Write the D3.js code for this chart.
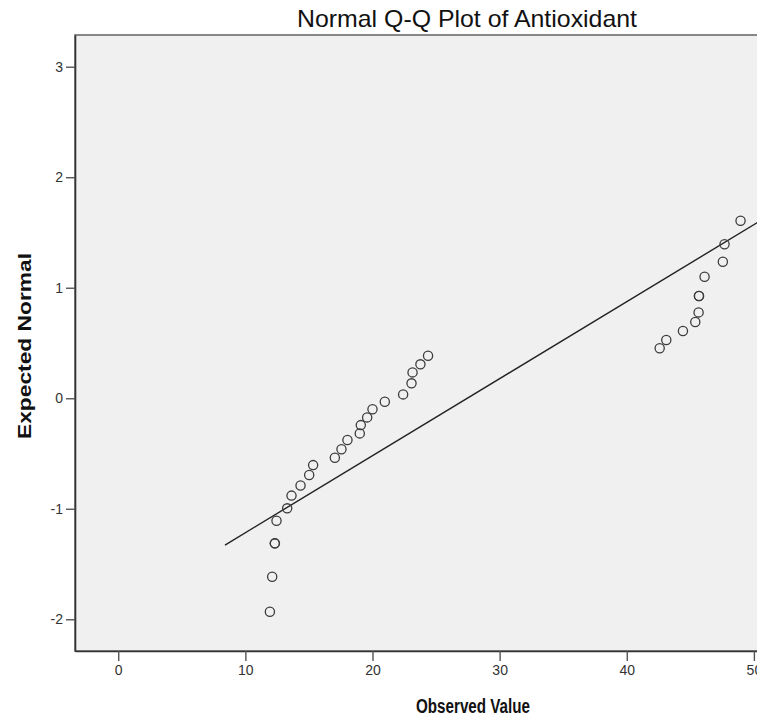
<!DOCTYPE html>
<html>
<head>
<meta charset="utf-8">
<script src="https://cdn.jsdelivr.net/npm/d3@7"></script>
<style>
  body { margin: 0; background: #fff; }
  svg { display: block; font-family: 'Liberation Sans', Arial, sans-serif; }
</style>
</head>
<body>
<div id="svg-container"></div>
<script>
const observed = [
  11.93, 12.11, 12.32, 12.32, 12.45, 13.29, 13.63, 14.34, 15.02, 15.33,
  17.04, 17.56, 18.03, 19.0, 19.08, 19.58, 20.0, 20.97, 22.41, 23.07,
  23.15, 23.77, 24.37,
  42.59, 43.11, 44.42, 45.39, 45.65, 45.68, 45.68, 46.12, 47.56, 47.69, 48.95,
];
const expected = [
  -1.932, -1.615, -1.313, -1.313, -1.109, -0.996, -0.881, -0.79, -0.695, -0.605,
  -0.538, -0.462, -0.378, -0.318, -0.243, -0.173, -0.1, -0.032, 0.035, 0.135,
  0.234, 0.307, 0.385,
  0.452, 0.527, 0.608, 0.69, 0.777, 0.925, 0.925, 1.1, 1.235, 1.393, 1.606,
];
const xTicks = [0, 10, 20, 30, 40, 50];
const yTicks = [-2, -1, 0, 1, 2, 3];
const lineMean = 27.46;
const lineSd = 14.35;
const lineRange = [8.4, 56];

const WIDTH = 757;
const HEIGHT = 721;
const LEFT = 75;
const TOP = 35;
const BOTTOM = 651;
const RIGHT = 820;

const svg = d3.create('svg').attr('width', WIDTH).attr('height', HEIGHT);

const xScale = d3.scaleLinear().domain([-3.4, 55.2]).range([LEFT, RIGHT]);
const yScale = d3.scaleLinear().domain([-2.287, 3.287]).range([BOTTOM, TOP]);

svg
  .append('rect')
  .attr('x', LEFT)
  .attr('y', TOP)
  .attr('width', RIGHT - LEFT)
  .attr('height', BOTTOM - TOP)
  .attr('fill', '#f0f0f0')
  .attr('stroke', '#6b6b6b')
  .attr('stroke-width', 1.6);

svg
  .append('defs')
  .append('clipPath')
  .attr('id', 'plot-clip')
  .append('rect')
  .attr('x', LEFT)
  .attr('y', TOP)
  .attr('width', RIGHT - LEFT)
  .attr('height', BOTTOM - TOP);

const points = observed.map((x, i) => [x, expected[i]]);
const refLine = lineRange.map((x) => [x, (x - lineMean) / lineSd]);

svg
  .append('path')
  .datum(refLine)
  .attr('clip-path', 'url(#plot-clip)')
  .attr('fill', 'none')
  .attr('stroke', '#222')
  .attr('stroke-width', 1.4)
  .attr('d', d3.line().x((d) => xScale(d[0])).y((d) => yScale(d[1])));

svg
  .append('g')
  .selectAll('circle')
  .data(points)
  .join('circle')
  .attr('cx', (d) => xScale(d[0]))
  .attr('cy', (d) => yScale(d[1]))
  .attr('r', 4.6)
  .attr('fill', 'none')
  .attr('stroke', '#3c3c3c')
  .attr('stroke-width', 1.3);

// plain hyphen minus, no decimals, like the SPSS output
const tickFormat = (d) => String(d);

const axisBottom = d3
  .axisBottom(xScale)
  .tickValues(xTicks)
  .tickFormat(tickFormat)
  .tickSize(10)
  .tickSizeOuter(0)
  .tickPadding(4);
const axisLeft = d3
  .axisLeft(yScale)
  .tickValues(yTicks)
  .tickFormat(tickFormat)
  .tickSize(9)
  .tickSizeOuter(0)
  .tickPadding(3);

const xAxis = svg
  .append('g')
  .attr('id', 'x-axis')
  .attr('transform', `translate(0, ${BOTTOM})`)
  .call(axisBottom);
const yAxis = svg
  .append('g')
  .attr('id', 'y-axis')
  .attr('transform', `translate(${LEFT}, 0)`)
  .call(axisLeft);

[xAxis, yAxis].forEach((axis) => {
  axis.select('.domain').attr('stroke', '#333').attr('stroke-width', 1.6);
  axis.selectAll('.tick line').attr('stroke', '#555').attr('stroke-width', 1.4);
  axis.selectAll('.tick text').attr('fill', '#333').style('font-size', '14px');
});

svg
  .append('text')
  .attr('x', 467)
  .attr('y', 27)
  .attr('text-anchor', 'middle')
  .attr('textLength', 340)
  .attr('lengthAdjust', 'spacingAndGlyphs')
  .style('font-size', '24px')
  .attr('fill', '#111')
  .text('Normal Q-Q Plot of Antioxidant');

svg
  .append('text')
  .attr('x', 473)
  .attr('y', 713)
  .attr('text-anchor', 'middle')
  .attr('textLength', 114)
  .attr('lengthAdjust', 'spacingAndGlyphs')
  .style('font-size', '20px')
  .style('font-weight', 'bold')
  .attr('fill', '#111')
  .text('Observed Value');

svg
  .append('text')
  .attr('transform', 'translate(31, 346) rotate(-90)')
  .attr('text-anchor', 'middle')
  .attr('textLength', 186)
  .attr('lengthAdjust', 'spacingAndGlyphs')
  .style('font-size', '18px')
  .style('font-weight', 'bold')
  .attr('fill', '#111')
  .text('Expected Normal');

document.getElementById('svg-container').appendChild(svg.node());
</script>
</body>
</html>
